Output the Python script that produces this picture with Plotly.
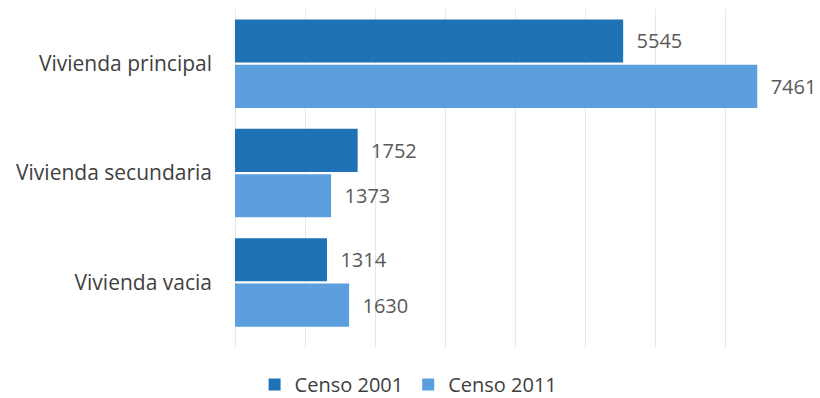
import plotly.graph_objects as go

categorias = ["Vivienda principal", "Vivienda secundaria", "Vivienda vacia"]
censo_2001 = [5545, 1752, 1314]
censo_2011 = [7461, 1373, 1630]
series = ["Censo 2001", "Censo 2011"]
colores = ["#1f72b6", "#5b9fde"]

fig = go.Figure()
for nombre, valores, color in zip(series, [censo_2001, censo_2011], colores):
    fig.add_trace(go.Bar(
        name=nombre,
        y=categorias,
        x=valores,
        orientation="h",
        marker=dict(color=color, line=dict(width=0)),
        texttemplate="\u00a0\u00a0%{x}",
        textposition="outside",
        textfont=dict(family="Open Sans", size=20, color="#595959"),
        cliponaxis=False,
    ))

fig.update_layout(
    width=820, height=398,
    margin=dict(l=235, r=25, t=9, b=50, autoexpand=False),
    paper_bgcolor="white", plot_bgcolor="white",
    barmode="group", bargap=0.17, bargroupgap=0.05,
    font=dict(family="Open Sans", color="#404040"),
    showlegend=True,
    legend=dict(
        orientation="h", x=0.31, xanchor="center", y=-0.108, yanchor="middle",
        font=dict(family="Open Sans", size=20, color="#404040"),
        itemwidth=30, traceorder="normal",
    ),
    xaxis=dict(
        range=[0, 8000], dtick=1000, showticklabels=False,
        showgrid=True, gridcolor="#e8e8e8", gridwidth=1,
        zeroline=True, zerolinecolor="#e8e8e8", zerolinewidth=1,
        showline=False, fixedrange=True,
    ),
    yaxis=dict(
        range=[2.6, -0.5], showgrid=False, showline=False,
        ticks="", ticklabelstandoff=22,
        tickfont=dict(family="Open Sans", size=21, color="#404040"),
    ),
)

fig.write_html("out.html")
